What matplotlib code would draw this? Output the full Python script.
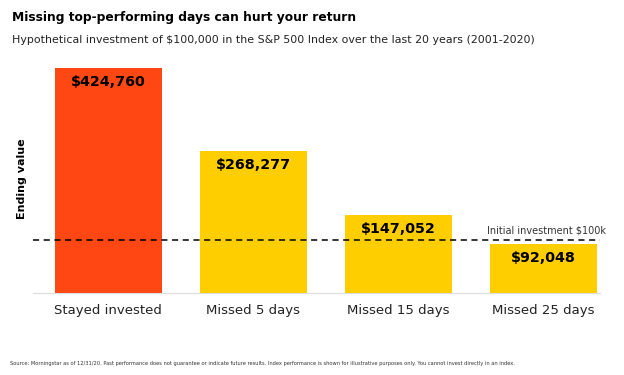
import matplotlib.pyplot as plt

categories = ["Stayed invested", "Missed 5 days", "Missed 15 days", "Missed 25 days"]
values = [424760, 268277, 147052, 92048]
value_labels = ["$424,760", "$268,277", "$147,052", "$92,048"]
initial_investment = 100000

title = "Missing top-performing days can hurt your return"
subtitle = "Hypothetical investment of $100,000 in the S&P 500 Index over the last 20 years (2001-2020)"
source = ("Source: Morningstar as of 12/31/20. Past performance does not guarantee or indicate future results. "
          "Index performance is shown for illustrative purposes only. You cannot invest directly in an index.")

colors = ["#FF4713", "#FFCE00", "#FFCE00", "#FFCE00"]

plt.rcParams["font.family"] = ["DejaVu Sans"]

fig = plt.figure(figsize=(6.24, 3.75), dpi=100)
ax = fig.add_axes([33 / 624, 82 / 375, 567 / 624, 228 / 375])

x = range(len(categories))
bars = ax.bar(x, values, width=0.74, color=colors)

for bar, lab in zip(bars, value_labels):
    ax.text(bar.get_x() + bar.get_width() / 2, bar.get_height() - 13000, lab,
            ha="center", va="top", fontsize=10.3, fontweight="bold", color="black")

ax.axhline(initial_investment, color="black", linestyle=(0, (4, 3)), linewidth=1.1)
ax.text(3.43, initial_investment + 9000, "Initial investment $100k",
        ha="right", va="bottom", fontsize=7, color="#333333")

ax.set_xlim(-0.52, 3.39)
ax.set_ylim(0, 430400)
ax.set_xticks(list(x))
ax.set_xticklabels(categories, fontsize=9.5, color="#222222")
ax.tick_params(axis="x", length=0, pad=8)
ax.set_yticks([])
ax.set_ylabel("Ending value", fontsize=8, fontweight="bold", labelpad=4)

for side in ["top", "right", "left"]:
    ax.spines[side].set_visible(False)
ax.spines["bottom"].set_color("#dddddd")

fig.text(12 / 624, 1 - 17 / 375, title, fontsize=8.8, fontweight="bold", va="center")
fig.text(12 / 624, 1 - 40 / 375, subtitle, fontsize=7.9, va="center", color="#222222")
fig.text(10 / 624, 1 - 363 / 375, source, fontsize=3.7, va="center", color="#333333")

fig.savefig("out.png", dpi=100)
